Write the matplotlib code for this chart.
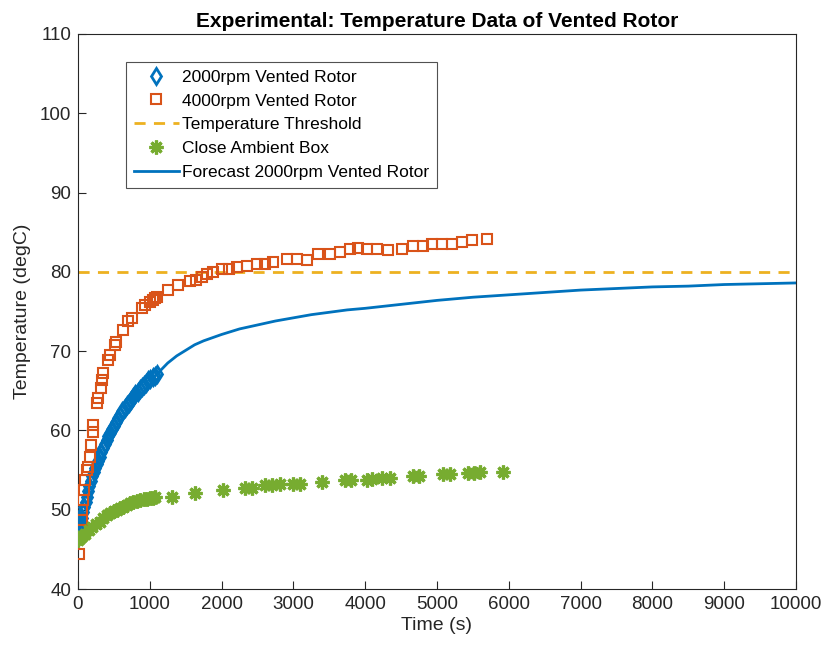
import matplotlib
matplotlib.use("Agg")
import matplotlib.pyplot as plt

plt.rcParams['font.family'] = ['Liberation Sans', 'DejaVu Sans']

# 2000rpm vented rotor (diamonds)
t_2000 = [0, 15, 30, 45, 60, 75, 90, 105, 120, 140, 160, 180, 200, 220, 240, 260, 280, 300,
          325, 350, 375, 400, 425, 450, 475, 500, 530, 560, 590, 620, 650, 680, 710, 740,
          770, 800, 830, 860, 890, 920, 950, 980, 1010, 1040, 1070, 1100]
T_2000 = [46.5, 47.2, 47.8, 48.4, 49.0, 49.7, 50.3, 51.0, 51.6, 52.4, 53.0, 53.6, 54.2, 54.7,
          55.2, 55.8, 56.2, 56.7, 57.3, 57.8, 58.3, 58.8, 59.3, 59.7, 60.2, 60.6, 61.1, 61.6,
          62.0, 62.4, 62.8, 63.2, 63.5, 63.9, 64.2, 64.6, 64.9, 65.2, 65.5, 65.7, 66.0, 66.3,
          66.5, 66.7, 66.9, 67.1]

# 4000rpm vented rotor (squares)
t_4000 = [18, 40, 51, 60, 68, 80, 100, 125, 144, 167, 185, 204, 215, 260, 275, 316, 335, 353,
          422, 440, 515, 530, 622, 700, 748, 887, 930, 1003, 1040, 1072, 1100, 1253, 1393,
          1560, 1640, 1723, 1800, 1885, 2001, 2100, 2210, 2350, 2489, 2600, 2720, 2906, 3046,
          3185, 3347, 3510, 3649, 3788, 3904, 4021, 4160, 4322, 4508, 4670, 4810, 4926,
          5065, 5205, 5344, 5484, 5692]
T_4000 = [44.4, 47.5, 48.7, 50.0, 51.2, 52.5, 53.8, 55.0, 55.4, 56.7, 58.2, 59.8, 60.7, 63.4,
          64.1, 65.4, 66.4, 67.2, 68.9, 69.5, 70.8, 71.2, 72.7, 73.8, 74.2, 75.4, 75.8, 76.2,
          76.5, 76.7, 76.8, 77.7, 78.3, 78.8, 79.0, 79.3, 79.7, 80.0, 80.3, 80.4, 80.6, 80.8,
          81.0, 81.0, 81.2, 81.6, 81.6, 81.5, 82.2, 82.3, 82.5, 82.9, 83.0, 82.9, 82.9,
          82.8, 82.9, 83.3, 83.3, 83.5, 83.5, 83.5, 83.8, 84.0, 84.1]

# Temperature threshold
threshold = 80

# Close ambient box (asterisks)
t_amb = [0, 30, 60, 100, 150, 200, 250, 300, 353, 400, 450, 500, 540, 585, 630, 680, 730, 770,
         820, 870, 920, 957, 1000, 1040, 1072, 1305, 1630, 2024, 2326, 2420, 2604, 2700, 2813,
         3000, 3092, 3394, 3719, 3800, 4021, 4100, 4229, 4345, 4670, 4750, 5088, 5180,
         5436, 5520, 5599, 5924]
T_amb = [46.2, 46.4, 46.7, 47.0, 47.4, 47.8, 48.2, 48.5, 48.9, 49.3, 49.6, 49.8, 50.0, 50.2,
         50.4, 50.6, 50.8, 51.0, 51.1, 51.2, 51.3, 51.4, 51.5, 51.5, 51.6, 51.6, 52.1, 52.5,
         52.7, 52.8, 53.1, 53.1, 53.2, 53.3, 53.3, 53.5, 53.8, 53.8, 53.8, 53.9, 54.0, 54.0,
         54.2, 54.2, 54.5, 54.5, 54.6, 54.6, 54.7, 54.8]

# Forecast 2000rpm vented rotor
t_fc = [1000, 1050, 1100, 1175, 1250, 1375, 1500, 1625, 1750, 1875, 2000, 2250, 2500, 2750,
        3000, 3250, 3500, 3750, 4000, 4500, 5000, 5500, 6000, 6500, 7000, 7500, 8000, 8500,
        9000, 9500, 10000]
T_fc = [66.3, 66.7, 67.1, 67.8, 68.5, 69.4, 70.1, 70.8, 71.3, 71.7, 72.1, 72.8, 73.3, 73.8,
        74.2, 74.6, 74.9, 75.2, 75.4, 75.9, 76.4, 76.8, 77.1, 77.4, 77.7, 77.9, 78.1, 78.2,
        78.4, 78.5, 78.6]

c_blue = '#0072BD'
c_orange = '#D95319'
c_yellow = '#EDB120'
c_green = '#77AC30'
c_axis = '#262626'

fig = plt.figure(figsize=(8.25, 6.52), dpi=100)
ax = fig.add_axes([0.0945, 0.0966, 0.8703, 0.8513])

ax.plot(t_2000, T_2000, linestyle='none', marker='d', ms=8.5, mfc='none', mec=c_blue,
        mew=2.0, label='2000rpm Vented Rotor', zorder=3)
ax.plot(t_4000, T_4000, linestyle='none', marker='s', ms=7, mfc='none', mec=c_orange,
        mew=1.5, label='4000rpm Vented Rotor', zorder=3)
ax.axhline(threshold, color=c_yellow, linestyle=(0, (4, 3)), lw=2, label='Temperature Threshold')
ax.plot(t_amb, T_amb, linestyle='none', marker=(8, 2, 0), ms=10, mfc=c_green, mec=c_green,
        mew=2.3, label='Close Ambient Box', zorder=3)
ax.plot(t_fc, T_fc, color=c_blue, lw=2, label='Forecast 2000rpm Vented Rotor', zorder=2)

ax.set_xlim(0, 10000)
ax.set_ylim(40, 110)
ax.set_xticks(range(0, 10001, 1000))
ax.set_yticks(range(40, 111, 10))
ax.tick_params(direction='in', labelsize=13.5, length=6, colors=c_axis, top=False, right=False,
               pad=5)
for s in ax.spines.values():
    s.set_color(c_axis)
    s.set_linewidth(0.8)

ax.set_xlabel('Time (s)', fontsize=14, color=c_axis, labelpad=3)
ax.set_ylabel('Temperature (degC)', fontsize=14, color=c_axis, labelpad=6)
ax.set_title('Experimental: Temperature Data of Vented Rotor', fontsize=15, fontweight='bold',
             color='black', pad=5)

leg = ax.legend(loc='upper left', bbox_to_anchor=(0.067, 0.95), fontsize=12.5, frameon=True,
                fancybox=False, edgecolor=c_axis, handlelength=2.6, borderpad=0.45,
                labelspacing=0.5, handletextpad=0.2, borderaxespad=0)
leg.get_frame().set_linewidth(0.8)

fig.savefig('out.png', dpi=100)
